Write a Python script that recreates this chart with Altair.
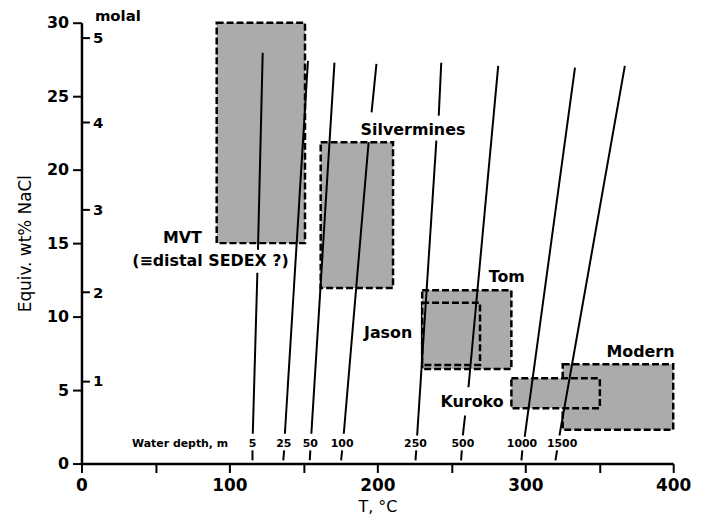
import altair as alt
import pandas as pd

# ---------------- data ----------------
x_ticks = [0, 50, 100, 150, 200, 250, 300, 350, 400]
y_ticks = [0, 5, 10, 15, 20, 25, 30]

# secondary "molal" scale: label and equivalent wt% position
molal_labels = ["1", "2", "3", "4", "5"]
molal_wt = [5.63, 11.66, 17.30, 23.22, 29.02]

# fluid-inclusion fields (T range, salinity range)
box_names = ["MVT", "Silvermines", "Tom", "Jason", "Modern", "Kuroko"]
box_T1 = [91.4, 161.7, 230.3, 230.3, 325.3, 290.6]
box_T2 = [151.1, 210.6, 290.6, 269.4, 400.0, 350.4]
box_wt1 = [15.0, 11.95, 6.43, 6.70, 2.30, 3.77]
box_wt2 = [30.0, 21.87, 11.79, 10.94, 6.76, 5.80]

# boiling curves for given water depth (segments, broken where labels sit)
seg_depth = ["5", "5", "5", "25", "25", "50", "50", "100", "100", "100",
             "250", "250", "250", "500", "500", "500", "1000", "1000", "1500", "1500"]
seg_T1 = [115.6, 115.8, 119.3, 136.4, 137.5, 154.3, 155.4, 175.5, 177.3, 196.1,
          225.8, 226.9, 241.5, 256.6, 257.8, 261.6, 297.4, 299.6, 320.4, 323.1]
seg_wt1 = [0.22, 2.03, 14.54, 0.22, 2.03, 0.22, 2.03, 0.22, 2.03, 23.9,
           0.22, 1.91, 23.68, 0.22, 1.91, 5.19, 0.22, 1.81, 0.22, 1.91]
seg_T2 = [115.6, 118.9, 122.5, 137.0, 153.1, 154.7, 171.0, 176.2, 194.1, 199.4,
          226.3, 239.9, 243.2, 257.1, 259.3, 281.7, 298.0, 333.6, 321.5, 367.3]
seg_wt2 = [0.90, 12.99, 27.96, 0.90, 27.40, 0.90, 27.28, 0.90, 21.87, 27.2,
           0.90, 21.98, 27.28, 0.90, 3.27, 27.06, 0.90, 26.94, 0.90, 27.06]

# water depth labels
depth_text = ["Water depth, m", "5", "25", "50", "100", "250", "500", "1000", "1500"]
depth_T = [66.7, 115.6, 136.8, 154.7, 176.2, 225.8, 257.8, 297.8, 324.9]
depth_wt = [1.3, 1.3, 1.3, 1.3, 1.3, 1.3, 1.3, 1.3, 1.3]

# field labels
label_text = ["MVT", "(\u2261distal SEDEX ?)", "Silvermines", "Tom", "Jason", "Kuroko", "Modern"]
label_T = [68.2, 87.2, 224.1, 287.5, 207.3, 264.0, 377.9]
label_wt = [15.34, 13.75, 22.7, 12.7, 8.91, 4.19, 7.6]

# ---------------- tables ----------------
box_df = pd.DataFrame({"name": box_names, "T1": box_T1, "T2": box_T2,
                       "wt1": box_wt1, "wt2": box_wt2})
seg_df = pd.DataFrame({"depth": seg_depth, "T1": seg_T1, "T2": seg_T2,
                       "wt1": seg_wt1, "wt2": seg_wt2})
depth_df = pd.DataFrame({"text": depth_text, "T1": depth_T, "wt1": depth_wt})
label_df = pd.DataFrame({"text": label_text, "T1": label_T, "wt1": label_wt})

FONT = "DejaVu Sans"
W, H = 596, 444

xscale = alt.Scale(domain=[0, 400], nice=False, zero=False)
yscale = alt.Scale(domain=[0, 30], nice=False, zero=False)

xaxis = alt.Axis(values=x_ticks, labelExpr="datum.value % 100 == 0 ? datum.label : ''",
                 title="T, \u00b0C", grid=False, tickSize=9, tickWidth=2,
                 domainWidth=2.5, domainColor="black", tickColor="black",
                 labelFont=FONT, labelFontSize=17, labelFontWeight="bold",
                 labelColor="black", labelPadding=5, labelFlush=False, labelOverlap=False,
                 titleFont=FONT, titleFontSize=16, titleFontWeight="normal",
                 titleColor="black", titlePadding=5)

yaxis = alt.Axis(values=y_ticks, title="Equiv. wt% NaCl", grid=False, tickSize=9,
                 tickWidth=2, domainWidth=2.5, domainColor="black", tickColor="black",
                 labelFont=FONT, labelFontSize=16, labelFontWeight="bold",
                 labelColor="black", labelPadding=4, labelFlush=False,
                 titleFont=FONT, titleFontSize=17, titleFontWeight="normal",
                 titleColor="black", titlePadding=12)

vals = ",".join(str(v) for v in molal_wt)
labs = ",".join("'" + s + "'" for s in molal_labels)
molal_axis = alt.Axis(orient="right", offset=-W, values=molal_wt,
                      labelExpr=f"[{labs}][indexof([{vals}], datum.value)]",
                      domain=False, grid=False, tickSize=8, tickWidth=2, tickColor="black",
                      labelFont=FONT, labelFontSize=15, labelFontWeight="bold",
                      labelColor="black", labelPadding=3, labelFlush=False,
                      title="molal", titleAngle=0, titleAlign="left", titleBaseline="middle",
                      titleX=13, titleY=-7, titleFont=FONT, titleFontSize=15,
                      titleFontWeight="bold", titleColor="black")

boxes = alt.Chart(box_df).mark_rect(
    fill="#ababab", stroke="black", strokeWidth=2.5, strokeDash=[7, 3]
).encode(
    x=alt.X("T1:Q", scale=xscale, axis=xaxis), x2="T2",
    y=alt.Y("wt1:Q", scale=yscale, axis=yaxis), y2="wt2",
)

lines = alt.Chart(seg_df).mark_rule(color="black", strokeWidth=2).encode(
    x=alt.X("T1:Q", scale=xscale, axis=xaxis), x2="T2",
    y=alt.Y("wt1:Q", scale=yscale, axis=None), y2="wt2",
)

depth_labels = alt.Chart(depth_df).mark_text(
    font=FONT, fontSize=11, fontWeight="bold", color="black",
    align="center", baseline="middle"
).encode(
    x=alt.X("T1:Q", scale=xscale, axis=xaxis),
    y=alt.Y("wt1:Q", scale=yscale, axis=None),
    text="text:N",
)

field_labels = alt.Chart(label_df).mark_text(
    font=FONT, fontSize=16, fontWeight="bold", color="black",
    align="center", baseline="middle"
).encode(
    x=alt.X("T1:Q", scale=xscale, axis=xaxis),
    y=alt.Y("wt1:Q", scale=yscale, axis=molal_axis),
    text="text:N",
)

chart = alt.layer(boxes, lines, depth_labels, field_labels).resolve_axis(
    y="independent"
).properties(
    width=W, height=H,
    padding={"left": 74, "top": 13, "right": 30, "bottom": 50},
    autosize=alt.AutoSizeParams(type="none"),
    background="white",
).configure_view(stroke=None)

chart.save("out.html", embed_options={"renderer": "svg", "actions": False})
